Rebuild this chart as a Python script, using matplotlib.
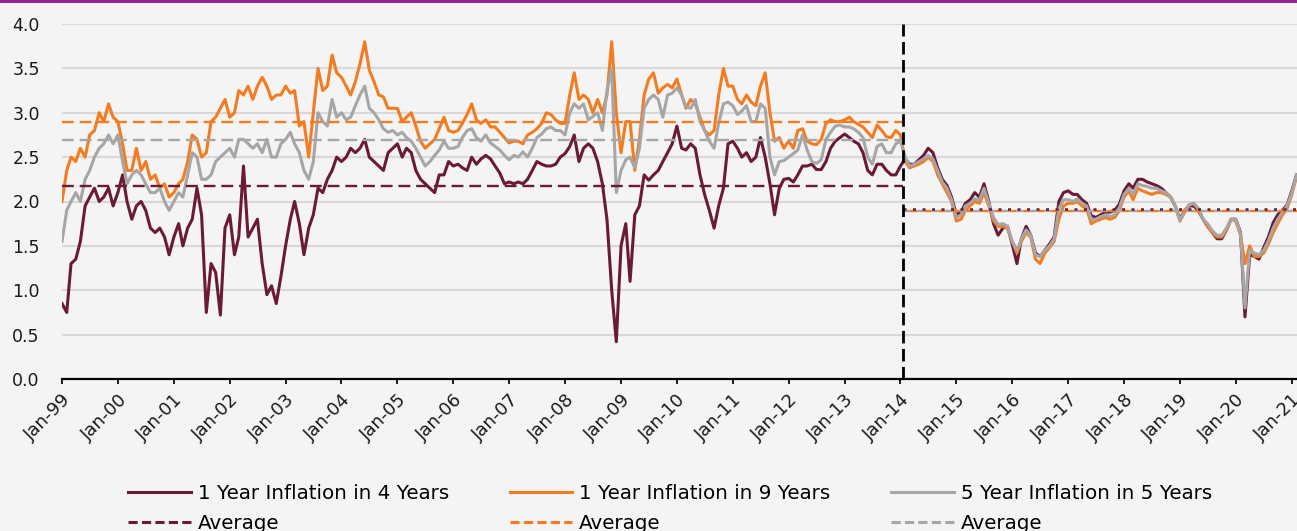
import numpy as np
import pandas as pd
import matplotlib
matplotlib.use("Agg")
import matplotlib.pyplot as plt
import matplotlib.dates as mdates
from matplotlib.lines import Line2D

# monthly readings, Jan-1999 .. Feb-2021
dates = pd.date_range("1999-01-01", periods=266, freq="MS")

y1_in_4 = [
    0.85, 0.75, 1.3, 1.35, 1.55, 1.95, 2.05, 2.15, 2.0, 2.05, 2.15, 1.95,
    2.1, 2.3, 2.0, 1.8, 1.95, 2.0, 1.9, 1.7, 1.65, 1.7, 1.6, 1.4,
    1.6, 1.75, 1.5, 1.7, 1.8, 2.15, 1.85, 0.75, 1.3, 1.2, 0.72, 1.7,
    1.85, 1.4, 1.6, 2.4, 1.6, 1.7, 1.8, 1.3, 0.95, 1.05, 0.85, 1.15,
    1.5, 1.8, 2.0, 1.75, 1.4, 1.7, 1.85, 2.15, 2.1, 2.25, 2.35, 2.5,
    2.45, 2.5, 2.6, 2.55, 2.6, 2.7, 2.5, 2.45, 2.4, 2.35, 2.55, 2.6,
    2.65, 2.5, 2.6, 2.55, 2.35, 2.25, 2.2, 2.15, 2.1, 2.3, 2.3, 2.45,
    2.4, 2.42, 2.38, 2.35, 2.5, 2.42, 2.48, 2.52, 2.48, 2.4, 2.32, 2.2,
    2.22, 2.2, 2.22, 2.2, 2.25, 2.35, 2.45, 2.42, 2.4, 2.4, 2.42, 2.5,
    2.54, 2.62, 2.75, 2.45, 2.6, 2.65, 2.6, 2.45, 2.2, 1.8, 1.0, 0.42,
    1.5, 1.75, 1.1, 1.85, 1.95, 2.3, 2.24, 2.3, 2.35, 2.45, 2.55, 2.65,
    2.85, 2.6, 2.58, 2.65, 2.6, 2.3, 2.08, 1.9, 1.7, 1.95, 2.15, 2.65,
    2.68, 2.6, 2.5, 2.55, 2.45, 2.5, 2.72, 2.5, 2.2, 1.85, 2.15, 2.25,
    2.26, 2.22, 2.3, 2.4, 2.4, 2.42, 2.36, 2.36, 2.45, 2.6, 2.68, 2.72,
    2.76, 2.72, 2.68, 2.65, 2.55, 2.35, 2.3, 2.42, 2.42, 2.35, 2.3, 2.3,
    2.4, 2.48, 2.42, 2.42, 2.47, 2.52, 2.6, 2.55, 2.38, 2.25, 2.18, 2.05,
    1.85, 1.88, 1.98, 2.02, 2.1, 2.05, 2.2, 2.0, 1.75, 1.62, 1.7, 1.72,
    1.52, 1.3, 1.58, 1.72, 1.62, 1.42, 1.38, 1.45, 1.52, 1.6, 2.0, 2.1,
    2.12, 2.08, 2.08, 2.02, 1.98, 1.84, 1.82, 1.85, 1.88, 1.88, 1.9, 1.97,
    2.12, 2.2, 2.15, 2.25, 2.25, 2.22, 2.2, 2.18, 2.15, 2.1, 2.05, 1.95,
    1.8, 1.9, 1.95, 1.95, 1.9, 1.8, 1.72, 1.65, 1.58, 1.58, 1.68, 1.8,
    1.8, 1.65, 0.7, 1.4, 1.38, 1.35, 1.48, 1.6, 1.76, 1.85, 1.9, 1.96,
    2.12, 2.3,
]

y1_in_9 = [
    2.0, 2.35, 2.5, 2.45, 2.6, 2.5, 2.75, 2.8, 3.0, 2.9, 3.1, 2.95,
    2.9, 2.65, 2.35, 2.35, 2.6, 2.35, 2.45, 2.25, 2.3, 2.15, 2.2, 2.05,
    2.1, 2.2, 2.25, 2.45, 2.75, 2.7, 2.5, 2.55, 2.9, 2.95, 3.05, 3.15,
    2.95, 3.0, 3.25, 3.2, 3.3, 3.15, 3.3, 3.4, 3.3, 3.15, 3.2, 3.2,
    3.3, 3.22, 3.25, 2.85, 2.9, 2.5, 3.0, 3.5, 3.25, 3.3, 3.65, 3.45,
    3.4, 3.3, 3.2, 3.35, 3.55, 3.8, 3.48, 3.35, 3.2, 3.18, 3.05, 3.05,
    3.05, 2.9, 2.95, 3.0, 2.85, 2.68, 2.6, 2.65, 2.7, 2.82, 2.95, 2.8,
    2.78, 2.8, 2.88, 2.98, 3.1, 2.92, 2.88, 2.92, 2.84, 2.84, 2.78, 2.72,
    2.66, 2.68, 2.68, 2.65, 2.75, 2.78, 2.82, 2.88, 3.0, 2.98, 2.92, 2.88,
    2.88, 3.2, 3.45, 3.15, 3.2, 3.15, 3.0, 3.15, 3.0, 3.2, 3.8, 3.0,
    2.55, 2.9, 2.9, 2.35, 2.7, 3.2, 3.38, 3.45, 3.22, 3.28, 3.32, 3.28,
    3.38, 3.2, 3.05, 3.15, 3.1, 2.95, 2.8, 2.75, 2.8, 3.2, 3.5, 3.3,
    3.3, 3.15, 3.1, 3.2, 3.12, 3.08, 3.3, 3.45, 3.0, 2.68, 2.72, 2.6,
    2.68, 2.6, 2.8, 2.82, 2.68, 2.65, 2.64, 2.7, 2.88, 2.92, 2.9, 2.9,
    2.92, 2.95, 2.9, 2.87, 2.84, 2.78, 2.72, 2.86, 2.8, 2.73, 2.72, 2.8,
    2.75, 2.45, 2.38, 2.4, 2.42, 2.45, 2.5, 2.45, 2.3, 2.2, 2.1, 2.0,
    1.78, 1.8, 1.9, 1.95, 2.0, 1.98, 2.1, 1.95, 1.78, 1.72, 1.72, 1.7,
    1.55, 1.42, 1.55, 1.65, 1.6, 1.35, 1.3, 1.42, 1.48, 1.55, 1.8, 1.95,
    1.98, 1.98, 2.0, 1.95, 1.92, 1.75, 1.78, 1.8, 1.82, 1.8, 1.82, 1.9,
    2.05, 2.12, 2.02, 2.15, 2.12, 2.1, 2.08, 2.1, 2.1, 2.08, 2.05, 1.95,
    1.78, 1.88, 1.96, 1.98, 1.92, 1.8, 1.72, 1.65, 1.6, 1.6, 1.68, 1.8,
    1.78, 1.62, 1.3, 1.5, 1.38, 1.38, 1.42, 1.52, 1.65, 1.75, 1.85, 1.92,
    2.08, 2.28,
]

y5_in_5 = [
    1.55, 1.9, 2.0, 2.1, 2.0, 2.25, 2.35, 2.5, 2.6, 2.65, 2.75, 2.65,
    2.75, 2.45, 2.2, 2.3, 2.35, 2.3, 2.2, 2.1, 2.1, 2.15, 2.0, 1.9,
    2.0, 2.1, 2.05, 2.3, 2.55, 2.5, 2.25, 2.25, 2.3, 2.45, 2.5, 2.55,
    2.6, 2.5, 2.7, 2.7, 2.65, 2.6, 2.65, 2.55, 2.7, 2.5, 2.5, 2.65,
    2.7, 2.78, 2.65, 2.55, 2.35, 2.25, 2.45, 3.0, 2.9, 2.85, 3.15, 2.95,
    3.0, 2.92, 2.95, 3.08, 3.2, 3.3, 3.05, 3.0, 2.92, 2.82, 2.78, 2.8,
    2.75, 2.78, 2.72, 2.68, 2.6, 2.5, 2.4, 2.45, 2.52, 2.58, 2.68, 2.6,
    2.6, 2.62, 2.72, 2.8, 2.82, 2.72, 2.68, 2.75, 2.66, 2.62, 2.58, 2.52,
    2.47, 2.52, 2.5, 2.56, 2.5, 2.6, 2.72, 2.76, 2.82, 2.84, 2.8, 2.8,
    2.75, 3.0, 3.1, 3.05, 3.1, 2.92, 2.96, 3.0, 2.8, 3.25, 3.5, 2.1,
    2.35, 2.47, 2.5, 2.38, 2.6, 3.05, 3.15, 3.2, 3.15, 2.95, 3.2, 3.22,
    3.28, 3.2, 3.07, 3.05, 3.15, 2.9, 2.8, 2.68, 2.6, 2.88, 3.1, 3.12,
    3.08, 2.98, 3.02, 3.08, 2.9, 2.9, 3.1, 3.05, 2.5, 2.3, 2.45, 2.46,
    2.5, 2.54, 2.58, 2.75, 2.58, 2.45, 2.43, 2.47, 2.7, 2.78, 2.85, 2.86,
    2.84, 2.84, 2.82, 2.78, 2.72, 2.5, 2.42, 2.62, 2.65, 2.55, 2.55, 2.65,
    2.68, 2.5, 2.4, 2.42, 2.45, 2.48, 2.52, 2.48, 2.35, 2.22, 2.15, 2.02,
    1.82, 1.85, 1.95, 1.98, 2.03, 2.02, 2.15, 1.98, 1.82, 1.74, 1.75, 1.72,
    1.55, 1.45, 1.58, 1.68, 1.62, 1.4, 1.38, 1.45, 1.5, 1.58, 1.92, 2.02,
    2.02, 2.0, 2.03, 1.98, 1.95, 1.8, 1.8, 1.83, 1.85, 1.83, 1.85, 1.93,
    2.08, 2.15, 2.08, 2.2, 2.18, 2.17, 2.15, 2.15, 2.12, 2.1, 2.05, 1.95,
    1.78, 1.9, 1.96, 1.98, 1.92, 1.8, 1.75, 1.67, 1.62, 1.62, 1.7, 1.8,
    1.8, 1.64, 0.8, 1.45, 1.42, 1.4, 1.45, 1.56, 1.7, 1.8, 1.88, 1.95,
    2.1, 2.3,
]

# averages before / after the break
avg_before = {"y1_in_4": 2.18, "y1_in_9": 2.90, "y5_in_5": 2.69}
avg_after = {"y1_in_4": 1.915, "y1_in_9": 1.893, "y5_in_5": 1.893}
split_date = pd.Timestamp("2014-01-20")
end_date = pd.Timestamp("2021-02-04")

labels = ["1 Year Inflation in 4 Years", "1 Year Inflation in 9 Years",
          "5 Year Inflation in 5 Years"]

maroon = "#6b1a35"
orange = "#f47b20"
grey = "#a6a6a6"
bg = "#f4f4f4"

plt.rcParams["font.family"] = "DejaVu Sans"

fig = plt.figure(figsize=(12.97, 5.31), dpi=100, facecolor=bg)
ax = fig.add_axes([62 / 1297, 1 - 379 / 531, 1 - 62 / 1297, 355 / 531])
ax.set_facecolor(bg)

lw = 2.2
ax.plot(dates, y1_in_4, color=maroon, lw=lw, zorder=3)
ax.plot(dates, y1_in_9, color=orange, lw=lw, zorder=4)
ax.plot(dates, y5_in_5, color=grey, lw=lw, zorder=5)

start = dates[0]
dash = (5, 2.5)
ax.plot([start, split_date], [avg_before["y1_in_4"]] * 2, color=maroon, lw=1.7,
        dashes=dash, zorder=6)
ax.plot([start, split_date], [avg_before["y1_in_9"]] * 2, color=orange, lw=1.7,
        dashes=dash, zorder=6)
ax.plot([start, split_date], [avg_before["y5_in_5"]] * 2, color=grey, lw=1.7,
        dashes=dash, zorder=6)

# after the break the orange and grey averages coincide
ax.plot([split_date, end_date], [avg_after["y5_in_5"]] * 2, color=grey, lw=1.7,
        dashes=(3, 3), dash_capstyle="butt", gapcolor=orange, zorder=6)
ax.plot([split_date, end_date], [avg_after["y1_in_4"]] * 2, color=maroon, lw=1.8,
        dashes=(1.2, 2.6), zorder=7)

ax.axvline(split_date, color="black", lw=2.0, dashes=(4.5, 2), zorder=8)

ax.set_xlim(dates[0], end_date)
ax.set_ylim(0, 4)
ax.set_yticks(np.arange(0, 4.01, 0.5))
ax.yaxis.set_major_formatter(plt.FuncFormatter(lambda v, p: f"{v:.1f}"))
ax.grid(axis="y", color="#d9d9d9", lw=1.6)
ax.set_axisbelow(True)

ax.xaxis.set_major_locator(mdates.YearLocator(1, month=1, day=1))
ax.xaxis.set_major_formatter(mdates.DateFormatter("Jan-%y"))

for s in ["top", "right", "left"]:
    ax.spines[s].set_visible(False)
ax.spines["bottom"].set_color("black")
ax.spines["bottom"].set_linewidth(1.6)
ax.spines["bottom"].set_zorder(9)

ax.tick_params(axis="y", length=0, pad=16, labelsize=12.5, colors="#1a1a1a")
ax.tick_params(axis="x", length=3.5, width=1.4, pad=5, labelsize=13,
               colors="#1a1a1a")
for t in ax.get_xticklabels():
    t.set_rotation(45)
    t.set_ha("right")
    t.set_rotation_mode("anchor")

# purple rule on top
fig.add_artist(Line2D([0, 1], [0.998, 0.998], transform=fig.transFigure,
                      color="#93278f", lw=2.2))

handles = [
    Line2D([], [], color=maroon, lw=2.2),
    Line2D([], [], color=maroon, lw=2.2, dashes=(3, 1.4)),
    Line2D([], [], color=orange, lw=2.2),
    Line2D([], [], color=orange, lw=2.2, dashes=(3, 1.4)),
    Line2D([], [], color=grey, lw=2.2),
    Line2D([], [], color=grey, lw=2.2, dashes=(3, 1.4)),
]
names = [labels[0], "Average", labels[1], "Average", labels[2], "Average"]
fig.legend(handles, names, ncol=3, loc="upper left",
           bbox_to_anchor=(128 / 1297, 1 - 484 / 531), frameon=False,
           fontsize=14.3, handlelength=3.15, handletextpad=0.36,
           columnspacing=3.05, labelspacing=0.55, borderpad=0,
           borderaxespad=0)

fig.savefig("out.png", dpi=100, facecolor=bg)
